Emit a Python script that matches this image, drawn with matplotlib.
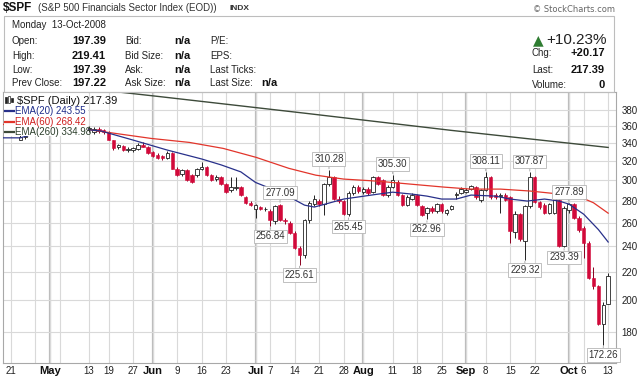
import numpy as np
import matplotlib.pyplot as plt
from matplotlib.patches import Rectangle
from matplotlib.lines import Line2D
from matplotlib.ticker import FixedLocator, FixedFormatter, NullLocator

plt.rcParams['font.family'] = ['Liberation Sans', 'DejaVu Sans']

# $SPF daily candles, trading day 0 = 21-Apr-2008 ... 122 = 13-Oct-2008
opens = [352, 354, 344, 347, 350, 356, 357, 353, 352, 364,
         367, 363, 357, 360, 354, 352, 356, 353, 357, 355,
         353, 343, 335, 337, 332, 332, 333, 338, 336, 330,
         327, 325, 323, 329, 312, 306, 310, 305, 305, 311,
         314, 305, 301, 303, 296, 290, 292, 293, 283, 278,
         272, 274, 272, 270, 261, 276, 262, 260, 251, 239,
         233, 262, 277, 280, 277, 296, 303, 282, 280, 268,
         287, 293, 288, 291, 288, 303, 300, 285, 293, 298,
         285, 276, 282, 285, 275, 269, 273, 270, 277, 269,
         272, 285, 287, 288, 291, 293, 281, 290, 303, 285,
         284, 285, 283, 252, 268, 244, 275, 303, 279, 276,
         269, 269, 281, 240, 271, 277, 264, 255, 243, 216,
         210, 185, 197.39]
highs = [356, 355, 349, 350, 358, 360, 360, 358, 366, 372,
         369, 365, 362, 361, 357, 358, 360, 359, 359, 357,
         354, 344, 339, 338, 335, 336, 340, 341, 337, 331,
         329, 327, 331, 330, 314, 312, 311, 306, 313, 319,
         315, 306, 305, 304, 297, 303, 303, 294, 284, 280,
         277, 275, 274, 272, 276, 277.09, 264, 261, 253, 240,
         263, 280, 285, 282, 297, 310.28, 304, 284, 281, 289,
         295, 295, 293, 293, 304, 304, 301, 295, 305.30, 300,
         286, 285, 287, 286, 276, 274, 275, 278, 278, 272,
         276, 288, 293, 292, 295, 294, 291, 308.11, 304, 287,
         287, 287, 284, 270, 269, 276, 307.87, 304, 280, 278,
         278, 285, 282, 275, 277.89, 278, 266, 257, 244, 224,
         211, 199, 219.41]
lows = [350, 349, 343, 345, 349, 353, 351, 350, 352, 362,
        361, 355, 352, 352, 350, 350, 353, 351, 352, 351,
        343, 332, 333, 331, 330, 330, 332, 335, 328, 324,
        322, 321, 322, 311, 304, 304, 299, 297, 303, 310,
        304, 299, 299, 295, 287, 288, 290, 284, 277, 275,
        264, 271, 270, 256.84, 259, 261, 259, 250, 238, 225.61,
        231, 260, 275, 275, 267, 294, 281, 278, 267, 265.45,
        285, 287, 286, 285, 287, 295, 284, 283, 292, 284,
        275, 275, 281, 275, 266, 262.96, 269, 269, 269, 267,
        271, 282, 286, 287, 290, 282, 279, 289, 282, 282,
        269, 280, 243, 247, 244, 229.32, 273, 278, 272, 268,
        268, 268, 239.5, 239.39, 269, 263, 252, 231, 215, 208,
        184, 172.26, 197.39]
closes = [355, 350, 347, 348, 356, 357, 353, 352, 364, 368,
          363, 357, 360, 354, 352, 356, 358, 357, 354, 353,
          344, 334, 338, 332, 333, 334, 338, 336, 329, 325,
          323, 323, 329, 312, 305, 310, 300, 298, 312, 314,
          305, 300, 303, 296, 288, 293, 293, 285, 278, 276,
          276, 272, 272.5, 262, 275, 262, 261, 251, 239, 233,
          262, 278, 282, 277, 296, 303, 282, 280, 268, 287,
          293, 289, 291, 287, 303, 296, 285, 293, 300, 285,
          276, 283, 285, 276, 267, 273, 270, 277, 270, 271,
          275, 286, 291, 290, 294, 283, 290, 303, 283, 283,
          285, 281, 253, 268, 246, 275, 303, 279, 274, 269,
          277, 283, 240, 273, 277, 264, 254, 243, 216, 210,
          185, 197.22, 217.39]

# moving averages at a few trading-day positions
ema20_day = [-1.5, 2, 5, 10, 16, 18.5, 25, 32, 39, 43, 47, 50, 54, 57, 60, 62,
             65, 68, 75, 78, 82, 85, 88, 91, 94, 99, 102, 105.5, 109, 112,
             114, 117, 120, 122]
ema20_val = [346, 346, 351, 356, 355.5, 354, 343.4, 332, 322.2, 315.8, 308.5,
             297.7, 289.9, 283.3, 275.8, 274, 277.7, 281.5, 286.2, 288.1, 286.2,
             284.3, 281.5, 281.5, 285.3, 284.3, 281.5, 279.6, 281.5, 279.6,
             276.7, 267.5, 254, 243.55]
ema60_day = [-1.5, 8, 16.5, 28.7, 36.5, 43.4, 50.1, 56.8, 62.3, 68, 74.9, 81.7,
             88.4, 93.9, 100, 106.1, 112.2, 116.3, 119, 122]
ema60_val = [362, 360, 355.2, 345.3, 340.7, 333.9, 324, 312.2, 305.1, 301.1,
             299, 296, 293.1, 291.1, 291.1, 289.2, 286.2, 283.4, 278, 268.42]
ema260_day = [-1.5, 30, 60, 90, 122]
ema260_val = [421.6, 397.9, 376, 354.8, 334.98]

# x axis: trading-day index of each weekly / monthly mark
tick_day = [0, 5, 8, 10, 16, 20, 25, 29, 34, 39, 44, 50, 53, 58, 63, 68, 72,
            78, 83, 88, 93, 97, 102, 107, 114, 117, 122]
tick_lbl = ['21', '', 'May', '', '13', '19', '27', 'Jun', '9', '16', '23', 'Jul',
            '7', '14', '21', '28', 'Aug', '11', '18', '25', 'Sep', '8', '15',
            '22', 'Oct', '6', '13']
months = ['May', 'Jun', 'Jul', 'Aug', 'Sep', 'Oct']
price_ticks = [180, 200, 220, 240, 260, 280, 300, 320, 340, 360, 380]

# labelled swing highs / lows (trading-day index)
high_marks = [55, 65, 78, 97, 106, 114]
low_marks = [53, 59, 69, 85, 105, 113, 121]

W, H = 640, 376
fig = plt.figure(figsize=(6.4, 3.76), dpi=100)


def fx(px):
    return px / W


def fy(py):
    return 1 - py / H


ax = fig.add_axes([fx(3.3), fy(363), (616 - 3.3) / W, (363 - 92) / H])

o = np.array(opens, float)
h = np.array(highs, float)
l = np.array(lows, float)
c = np.array(closes, float)
days = np.arange(len(c))
up = c >= o
body = np.maximum(np.abs(c - o), 0.5)

red = '#d2093a'
ax.vlines(days[up], l[up], h[up], color='#222222', lw=0.7, zorder=2)
ax.vlines(days[~up], l[~up], h[~up], color='#8a0020', lw=0.7, zorder=2)
ax.bar(days[up], body[up], bottom=o[up], width=0.72, color='white',
       edgecolor='#222222', lw=0.6, zorder=3)
ax.bar(days[~up], body[~up], bottom=c[~up], width=0.72, color=red,
       edgecolor=red, lw=0.4, zorder=3)

ax.plot(ema260_day, ema260_val, color='#3d4a3a', lw=1.0, zorder=4)
ax.plot(ema60_day, ema60_val, color='#e2352b', lw=0.9, zorder=4)
ax.plot(ema20_day, ema20_val, color='#28308a', lw=0.9, zorder=4)

# swing labels
box = dict(boxstyle='square,pad=0.18', fc='white', ec='#b5b5b5', lw=0.6)
arrow = dict(arrowstyle='-', color='#a0a0a0', lw=0.6, shrinkA=0, shrinkB=1)
for d in high_marks:
    ax.annotate(f'{h[d]:.2f}', (d, h[d]), xytext=(0, 8), textcoords='offset points',
                ha='center', va='center', fontsize=7, color='#333333',
                bbox=box, arrowprops=arrow, zorder=6)
for d in low_marks:
    ax.annotate(f'{l[d]:.2f}', (d, l[d]), xytext=(0, -7.3), textcoords='offset points',
                ha='center', va='center', fontsize=7, color='#333333',
                bbox=box, arrowprops=arrow, zorder=6)

ax.set_yscale('log')
ax.set_ylim(162, 403.8)
ax.set_xlim(-1.5, 123.6)
ax.yaxis.set_major_locator(FixedLocator(price_ticks))
ax.yaxis.set_major_formatter(FixedFormatter([str(v) for v in price_ticks]))
ax.yaxis.set_minor_locator(NullLocator())
ax.yaxis.tick_right()
ax.set_xticks(tick_day)
ax.set_xticklabels(tick_lbl)
ax.tick_params(axis='y', length=0, labelsize=7, pad=4, labelcolor='#222222')
ax.tick_params(axis='x', length=0, labelsize=7, pad=2.5, labelcolor='#222222')
for t in ax.get_xticklabels():
    if t.get_text() in months:
        t.set_fontweight('bold')
        t.set_fontsize(8)
        t.set_color('#111111')
ax.set_axisbelow(True)
ax.grid(True, color='#d9d9d9', lw=0.8)
for d, lbl in zip(tick_day, tick_lbl):
    if lbl in months:
        ax.axvline(d, color='#bcbcbc', lw=1.6, zorder=0.5)
for s in ax.spines.values():
    s.set_color('#a8a8a8')
    s.set_linewidth(0.8)

# legend block (opaque, top-left of chart)
fig.add_artist(Rectangle((fx(3.8), fy(136.5)), (88 - 3.8) / W, (136.5 - 92.8) / H,
                         transform=fig.transFigure, fc='white', ec='none', zorder=1))
for bx, by, bh, fc in [(5.2, 97, 6, '#222222'), (8.4, 96, 7, 'white'), (11.2, 98, 4, '#222222')]:
    fig.add_artist(Rectangle((fx(bx), fy(by + bh)), 2 / W, bh / H, transform=fig.transFigure,
                             fc=fc, ec='#222222', lw=0.5, zorder=2))
fig.text(fx(17), fy(100.5), f'$SPF (Daily) {c[-1]:.2f}', fontsize=8, color='#111111', va='center')
legend_rows = [(111, '#28308a', '#1f2d8a', f'EMA(20) {ema20_val[-1]:.2f}'),
               (121.5, '#e2352b', '#cf2020', f'EMA(60) {ema60_val[-1]:.2f}'),
               (132, '#3d4a3a', '#2c3f2c', f'EMA(260) {ema260_val[-1]:.2f}')]
for yy, lc, tc, txt in legend_rows:
    fig.add_artist(Line2D([fx(5), fx(14)], [fy(yy), fy(yy)], color=lc, lw=1.6, zorder=2))
    fig.text(fx(15), fy(yy), txt, fontsize=7, color=tc, va='center')

# header
fig.text(fx(3), fy(8), '$SPF', fontsize=8.5, fontweight='bold', color='#111111', va='center')
fig.text(fx(38), fy(8), '(S&P 500 Financials Sector Index (EOD))', fontsize=7,
         color='#333333', va='center')
fig.text(fx(230), fy(8.5), 'INDX', fontsize=6, fontweight='bold', color='#333333', va='center')
fig.text(fx(615), fy(10), '\u00a9 StockCharts.com', fontsize=6, family='DejaVu Sans',
         color='#666666', va='center', ha='right')

fig.add_artist(Rectangle((fx(4), fy(92)), (614 - 4) / W, (92 - 16) / H,
                         transform=fig.transFigure, fc='none', ec='#bdbdbd', lw=0.8))

chg = c[-1] - c[-2]
fig.text(fx(12), fy(24.5), 'Monday  13-Oct-2008', fontsize=7, color='#222222', va='center')
rows_y = [41.5, 56, 70, 83.5]
col1 = ['Open:', 'High:', 'Low:', 'Prev Close:']
col2 = [o[-1], h[-1], l[-1], c[-2]]
col3 = ['Bid:', 'Bid Size:', 'Ask:', 'Ask Size:']
col5 = ['P/E:', 'EPS:', 'Last Ticks:', 'Last Size:']
for yy, a, v, b, e in zip(rows_y, col1, col2, col3, col5):
    fig.text(fx(12), fy(yy), a, fontsize=7, color='#222222', va='center')
    fig.text(fx(72), fy(yy), f'{v:.2f}', fontsize=8, fontweight='bold', color='#111111', va='center')
    fig.text(fx(125), fy(yy), b, fontsize=7, color='#222222', va='center')
    fig.text(fx(174), fy(yy), 'n/a', fontsize=8, fontweight='bold', color='#111111', va='center')
    fig.text(fx(210), fy(yy), e, fontsize=7, color='#222222', va='center')
fig.text(fx(261), fy(rows_y[-1]), 'n/a', fontsize=8, fontweight='bold', color='#111111', va='center')

fig.text(fx(538), fy(40), '\u25b2', fontsize=10, family='DejaVu Sans', color='#2f7d32',
         ha='center', va='center')
fig.text(fx(546), fy(40), f'+{chg / c[-2] * 100:.2f}%', fontsize=11, color='#222222', va='center')
right_rows = [(53.5, 'Chg:', f'+{chg:.2f}'), (70, 'Last:', f'{c[-1]:.2f}'), (85, 'Volume:', '0')]
for yy, a, v in right_rows:
    fig.text(fx(532), fy(yy), a, fontsize=7, color='#222222', va='center')
    fig.text(fx(605), fy(yy), v, fontsize=8, fontweight='bold', color='#111111',
             va='center', ha='right')

fig.savefig('out.png', dpi=100)
